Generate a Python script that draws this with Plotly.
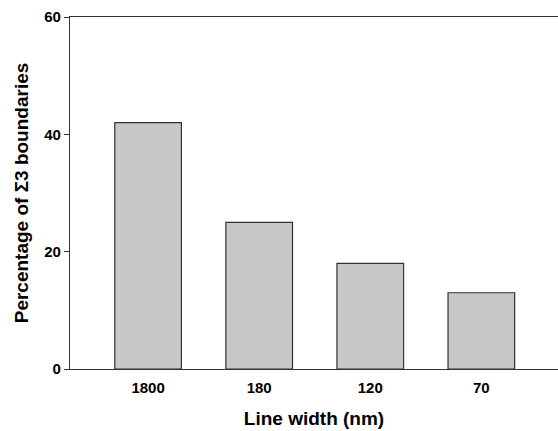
import plotly.graph_objects as go

categories = ["1800", "180", "120", "70"]
values = [42, 25, 18, 13]
y_ticks = [0, 20, 40, 60]

fig = go.Figure()
fig.add_trace(go.Bar(
    x=list(range(len(categories))), y=values, width=0.6,
    marker=dict(color="#c8c8c8", line=dict(color="#333333", width=1.2)),
))
fig.update_layout(
    width=558, height=431,
    margin=dict(l=70, r=0, t=17, b=62),
    plot_bgcolor="white", paper_bgcolor="white",
    showlegend=False,
    font=dict(family="Liberation Sans, Arial, sans-serif", color="black"),
)
fig.update_xaxes(
    range=[-0.703, 3.69], tickmode="array",
    tickvals=list(range(len(categories))), ticktext=categories,
    showgrid=False, zeroline=False, showline=True, linecolor="#333333",
    linewidth=1.2, mirror=True, ticks="", ticklabelstandoff=5,
    tickfont=dict(size=15, family="Liberation Sans", weight="bold"),
    title=dict(text="<b>Line width (nm)</b>", font=dict(size=19), standoff=16),
)
fig.update_yaxes(
    range=[0, 60], tickvals=y_ticks, showgrid=False, zeroline=False,
    showline=True, linecolor="#333333", linewidth=1.2, ticks="outside",
    ticklen=5, tickcolor="#333333",
    tickfont=dict(size=15, family="Liberation Sans", weight="bold"),
    title=dict(text="<b>Percentage of \u03a33 boundaries</b>", font=dict(size=19), standoff=10),
)
fig.write_html(
    "out.html",
    config={"displayModeBar": False},
    post_script="document.body.style.margin='0';document.body.style.overflow='hidden';",
)
